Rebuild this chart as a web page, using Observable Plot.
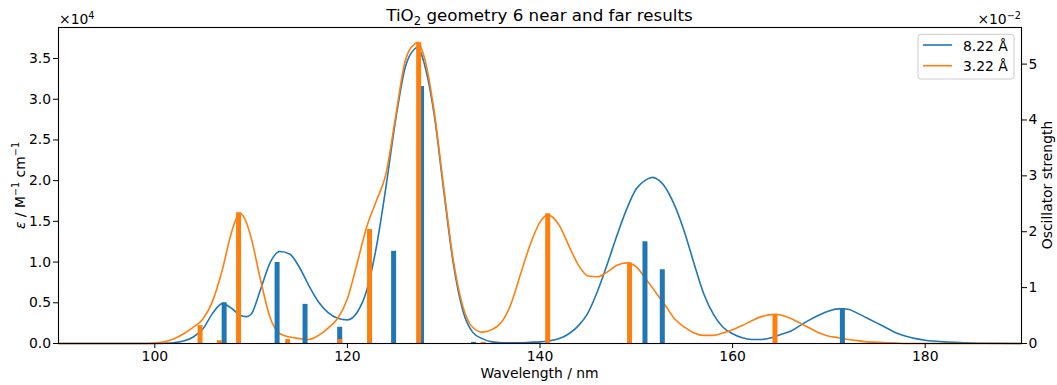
<!DOCTYPE html>
<html><head><meta charset="utf-8">
<script src="https://cdn.jsdelivr.net/npm/d3@7"></script>
<script src="https://cdn.jsdelivr.net/npm/@observablehq/plot@0.6"></script>
<style>body{margin:0;background:#fff} svg text{font-family:"DejaVu Sans"}</style>
</head><body><div id="chart"></div>
<script>
// Wavelength grid (nm)
const wavelengths = [90,95,99,100,101,102,103,104,105,106,107,108,108.8,109.5,110,111,112,113,114,115,116,117,118,119,120,121,122,123,124,125,126,127,127.3,128,129,130,131,132,133,134,135,136,137,138,139,140,140.8,142,143,144,145,146,147,148,149,150,151,151.7,152,153,154,155,156,157,158,159,160,161,162,163,164,164.5,165,166,167,168,169,170,171,171.4,172,173,174,175,176,177,178,179,180,182,184,186,190];
// epsilon (x10^4 M^-1 cm^-1), 8.22 Å
const eps822 = [0,0,0,0,0.003,0.01,0.03,0.08,0.18,0.37,0.49,0.43,0.35,0.33,0.36,0.67,1.00,1.13,1.10,0.94,0.71,0.51,0.38,0.31,0.29,0.38,0.65,1.18,1.92,2.74,3.39,3.62,3.64,3.43,2.82,1.88,0.98,0.40,0.14,0.06,0.02,0.01,0.01,0.01,0.015,0.02,0.03,0.06,0.12,0.22,0.38,0.65,0.98,1.33,1.65,1.90,2.01,2.04,2.03,1.92,1.69,1.37,0.98,0.61,0.36,0.20,0.12,0.07,0.05,0.05,0.07,0.09,0.11,0.15,0.22,0.29,0.35,0.40,0.425,0.426,0.42,0.37,0.31,0.25,0.19,0.13,0.09,0.06,0.04,0.02,0.01,0.003,0];
// epsilon (x10^4 M^-1 cm^-1), 3.22 Å
const eps322 = [0,0,0,0.005,0.02,0.058,0.12,0.20,0.30,0.52,0.90,1.38,1.60,1.49,1.30,0.77,0.31,0.12,0.08,0.06,0.05,0.10,0.19,0.31,0.55,0.98,1.43,1.75,2.08,2.78,3.47,3.68,3.70,3.51,2.86,1.92,1.02,0.45,0.20,0.14,0.17,0.26,0.49,0.86,1.22,1.49,1.58,1.45,1.20,0.96,0.83,0.82,0.88,0.96,0.99,0.94,0.79,0.68,0.63,0.47,0.30,0.20,0.13,0.10,0.10,0.13,0.17,0.22,0.28,0.33,0.355,0.36,0.35,0.31,0.25,0.19,0.13,0.09,0.07,0.06,0.05,0.035,0.02,0.015,0.01,0.005,0,0,0,0,0,0,0];
// Stick transitions: wavelength (nm) and oscillator strength (x10^-2)
const sticks822X = [107.2,112.7,115.6,119.2,124.8,127.7,133.1,150.9,152.7,171.4];
const sticks822F = [0.73,1.45,0.70,0.29,1.65,4.60,0.02,1.82,1.32,0.62];
const sticks322X = [104.7,106.7,108.7,113.8,119.2,122.3,127.4,134.1,140.8,149.3,164.4];
const sticks322F = [0.32,0.05,2.34,0.07,0.07,2.04,5.38,0.02,2.32,1.44,0.51];
// Axis ticks
const xTicks = [100,120,140,160,180];
const yTicks = [0,0.5,1,1.5,2,2.5,3,3.5];
const fTicks = [0,1,2,3,4,5];
const seriesNames = ["8.22 Å","3.22 Å"];
const colors = ["#1f77b4","#ff7f0e"];

const epsMax = 3.881, fMax = 5.655, k = epsMax / fMax;
const W = 1057, H = 385, mL = 58, mR = 36, mT = 27, mB = 42;

const curve822 = wavelengths.map((x,i)=>({x, y: eps822[i]}));
const curve322 = wavelengths.map((x,i)=>({x, y: eps322[i]}));
const st822 = sticks822X.map((x,i)=>({x, f: sticks822F[i]}));
const st322 = sticks322X.map((x,i)=>({x, f: sticks322F[i]}));

const plot = Plot.plot({
  width: W, height: H, marginLeft: mL, marginRight: mR, marginTop: mT, marginBottom: mB,
  style: {fontFamily: "DejaVu Sans", fontSize: "13.9px", color: "black", background: "white"},
  x: {domain: [90, 190]},
  y: {domain: [0, epsMax]},
  marks: [
    Plot.line(curve822, {x: "x", y: "y", stroke: colors[0], strokeWidth: 1.6, curve: "monotone-x"}),
    Plot.line(curve322, {x: "x", y: "y", stroke: colors[1], strokeWidth: 1.6, curve: "monotone-x"}),
    Plot.ruleX(st822, {x: "x", y1: 0, y2: d => d.f * k, stroke: colors[0], strokeWidth: 5}),
    Plot.ruleX(st322, {x: "x", y1: 0, y2: d => d.f * k, stroke: colors[1], strokeWidth: 5}),
    Plot.frame({stroke: "black", strokeWidth: 1.1}),
    Plot.axisX({ticks: xTicks, tickSize: 5, tickPadding: 3, label: null, fontSize: 13.9}),
    Plot.axisY({ticks: yTicks, tickFormat: d3.format(".1f"), tickSize: 5, tickPadding: 2.5, label: null, fontSize: 13.9}),
    Plot.axisY({anchor: "right", ticks: fTicks.map(v => v * k), tickFormat: d => String(Math.round(d / k)), tickSize: 5, tickPadding: 2, label: null, fontSize: 13.9})
  ]
});
document.getElementById("chart").appendChild(plot);

const svg = d3.select(plot);
const cx = (mL + (W - mR)) / 2;
const fs = 13.9;

// Title
const t = svg.append("text").attr("x", cx).attr("y", 21).attr("text-anchor", "middle").attr("font-size", "16.7px").attr("fill", "black");
t.append("tspan").text("TiO");
t.append("tspan").attr("font-size", "11.7px").attr("dy", 3.5).text("2");
t.append("tspan").attr("dy", -3.5).text(" geometry 6 near and far results");

// x label
svg.append("text").attr("x", cx).attr("y", 377.5).attr("text-anchor", "middle").attr("font-size", fs + "px").attr("fill", "black").text("Wavelength / nm");

// left y label
const yl = svg.append("text").attr("transform", "translate(24.5,185.5) rotate(-90)").attr("text-anchor", "middle").attr("font-size", fs + "px").attr("fill", "black");
yl.append("tspan").attr("font-style", "italic").text("ε");
yl.append("tspan").text(" / M");
yl.append("tspan").attr("font-size", "9.7px").attr("dy", -5.5).text("−1");
yl.append("tspan").attr("dy", 5.5).text(" cm");
yl.append("tspan").attr("font-size", "9.7px").attr("dy", -5.5).text("−1");

// right y label
svg.append("text").attr("transform", "translate(1051.5,185) rotate(-90)").attr("text-anchor", "middle").attr("font-size", fs + "px").attr("fill", "black").text("Oscillator strength");

// offset texts
const o1 = svg.append("text").attr("x", mL + 1).attr("y", 24).attr("text-anchor", "start").attr("font-size", fs + "px").attr("fill", "black");
o1.append("tspan").text("×10");
o1.append("tspan").attr("font-size", "9.7px").attr("dy", -5.5).text("4");
const o2 = svg.append("text").attr("x", W - mR).attr("y", 24).attr("text-anchor", "end").attr("font-size", fs + "px").attr("fill", "black");
o2.append("tspan").text("×10");
o2.append("tspan").attr("font-size", "9.7px").attr("dy", -5.5).text("−2");

// legend
const lg = svg.append("g");
lg.append("rect").attr("x", 918).attr("y", 34.3).attr("width", 96).attr("height", 44.7).attr("rx", 2.8)
  .attr("fill", "white").attr("fill-opacity", 0.8).attr("stroke", "#cccccc").attr("stroke-width", 1);
seriesNames.forEach((name, i) => {
  const yy = 45 + i * 20.7;
  lg.append("line").attr("x1", 923).attr("x2", 952).attr("y1", yy).attr("y2", yy).attr("stroke", colors[i]).attr("stroke-width", 1.6);
  lg.append("text").attr("x", 963).attr("y", yy + 5.5).attr("text-anchor", "start").attr("font-size", fs + "px").attr("fill", "black").text(name);
});
</script>
</body></html>
